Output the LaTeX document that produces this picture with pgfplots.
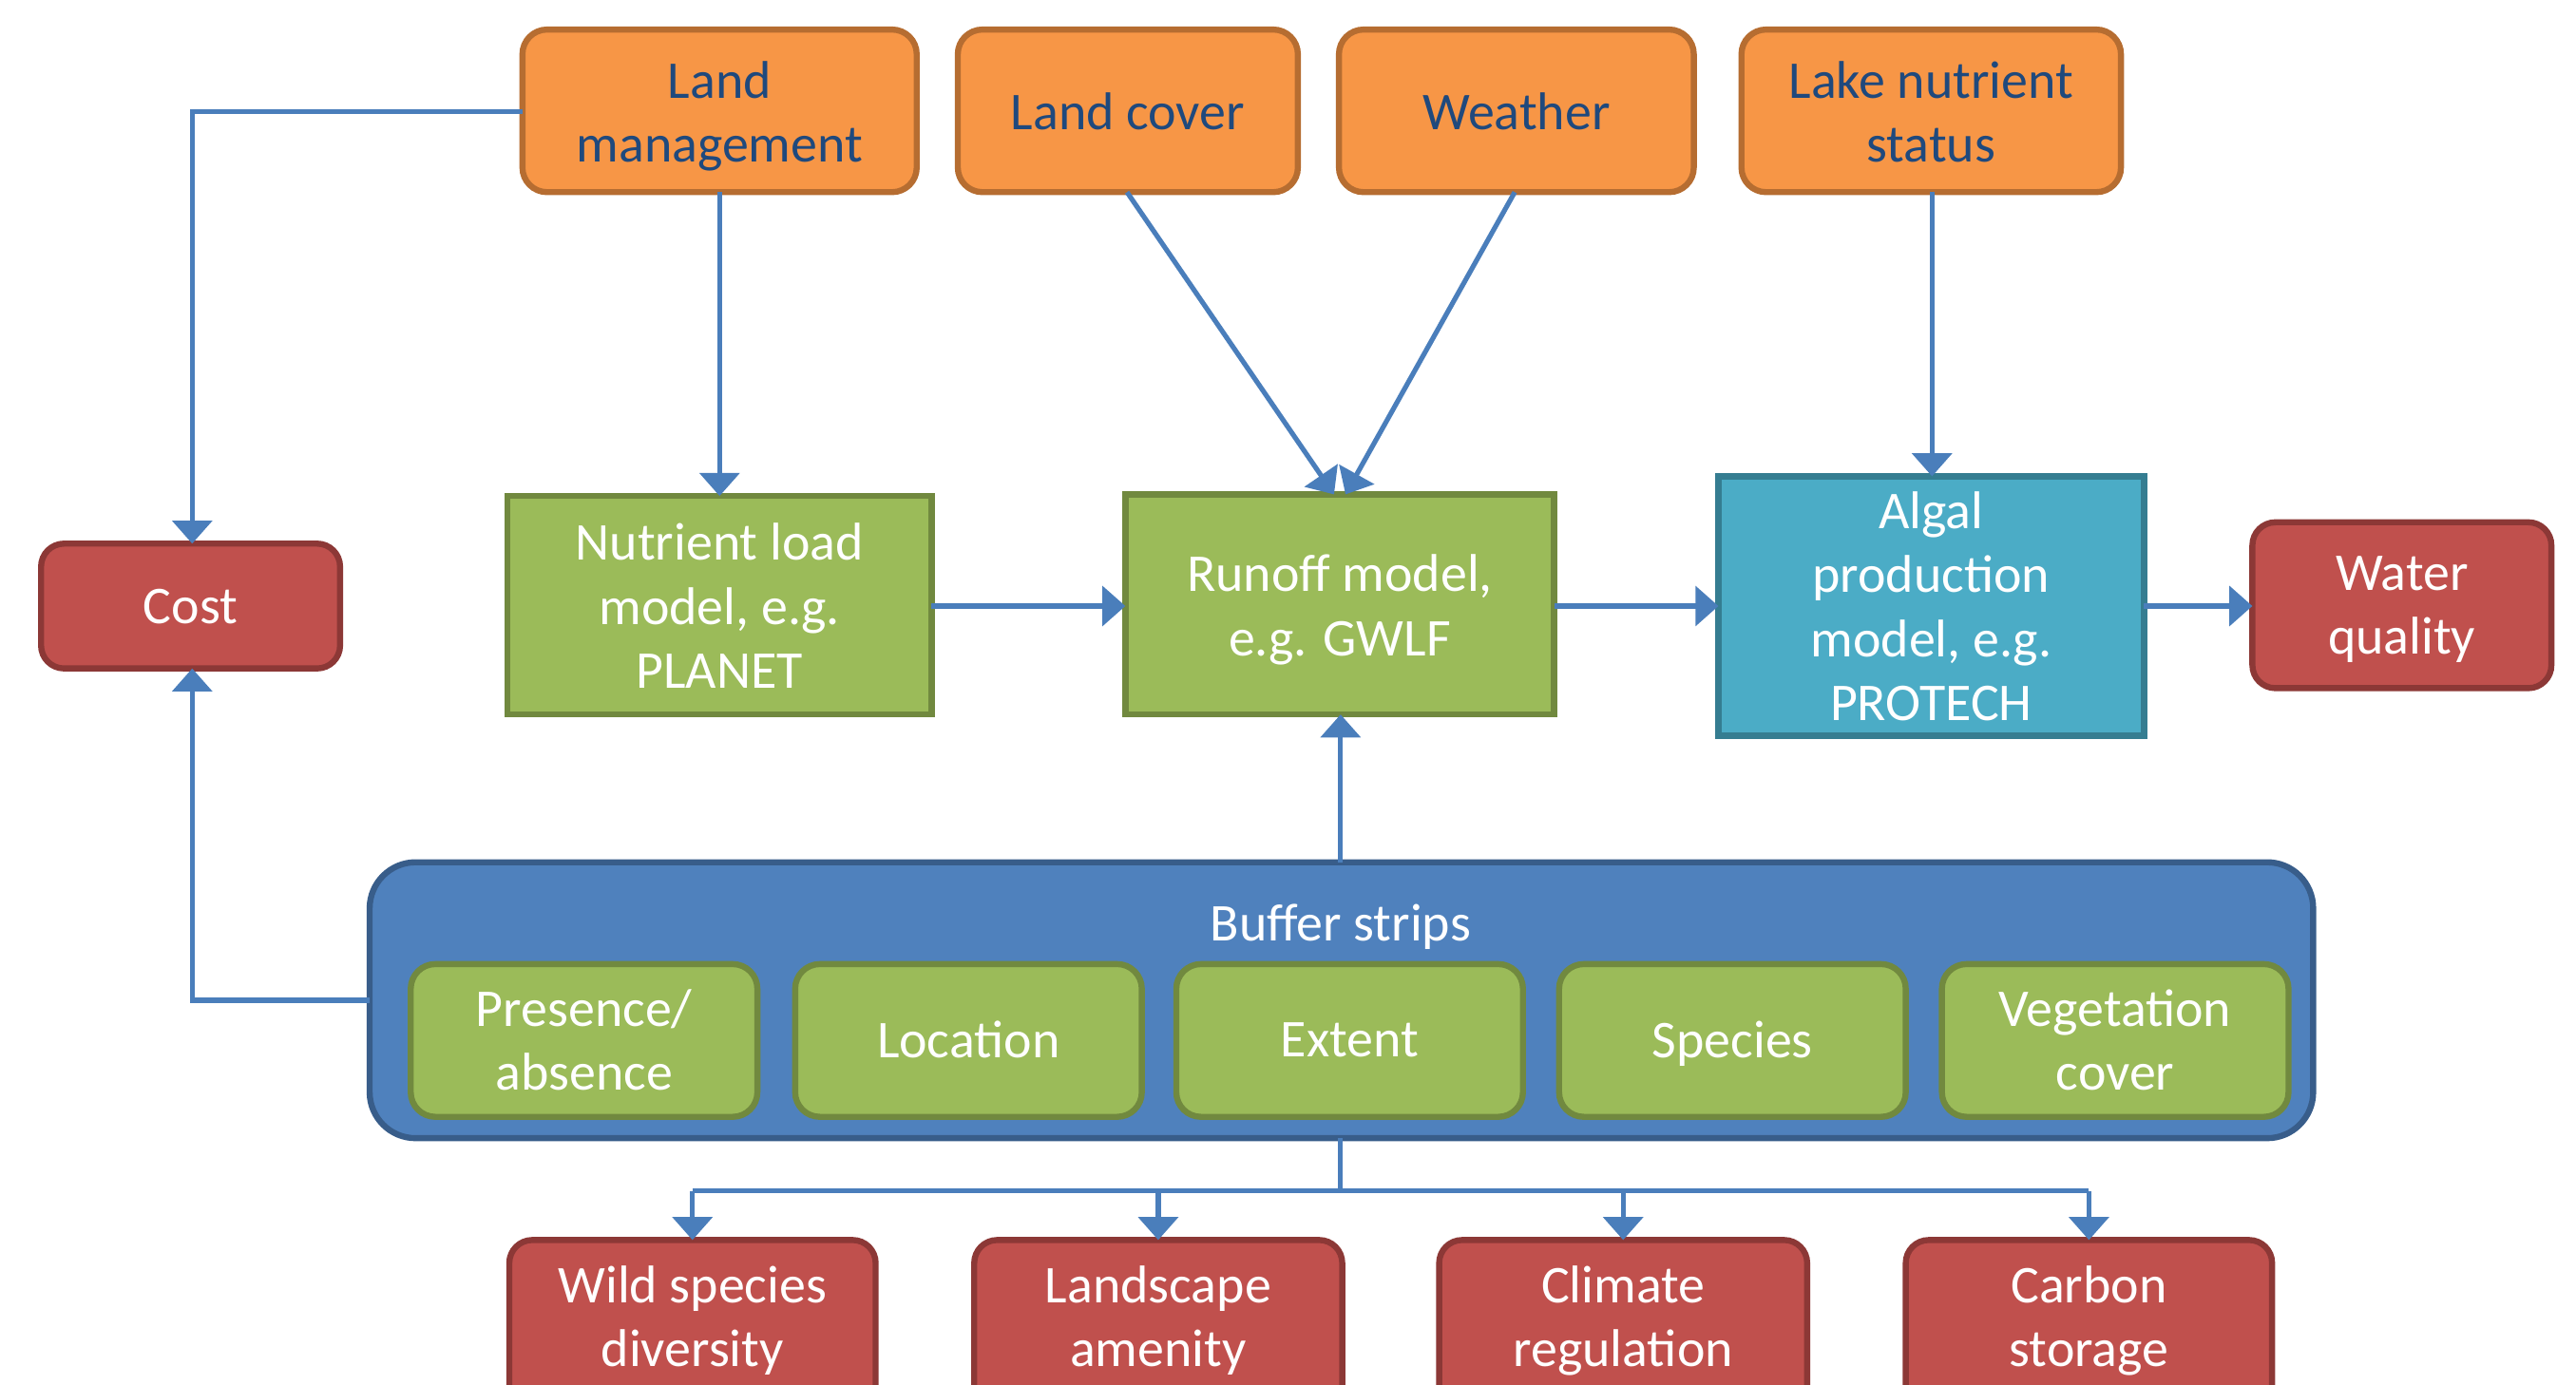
\documentclass[border=0pt]{standalone}
\usepackage{pgfplots}
\pgfplotsset{compat=1.18}
\usetikzlibrary{arrows.meta}
\usepackage{fontspec}
\setmainfont{Carlito}

\definecolor{orfill}{HTML}{F79646}
\definecolor{ordraw}{HTML}{B66D31}
\definecolor{ortext}{HTML}{1F497D}
\definecolor{rdfill}{HTML}{C0504D}
\definecolor{rddraw}{HTML}{8C3836}
\definecolor{grfill}{HTML}{9BBB59}
\definecolor{grdraw}{HTML}{71893F}
\definecolor{tlfill}{HTML}{4BACC6}
\definecolor{tldraw}{HTML}{357D91}
\definecolor{blfill}{HTML}{4F81BD}
\definecolor{bldraw}{HTML}{385D8A}
\definecolor{link}{HTML}{4A7EBB}

\tikzset{
  box-or/.style={fill=orfill, draw=ordraw, line width=1.05pt, rounded corners=0.15cm},
  box-rd/.style={fill=rdfill, draw=rddraw, line width=1.05pt, rounded corners=0.14cm},
  box-gr/.style={fill=grfill, draw=grdraw, line width=1.05pt},
  box-gri/.style={fill=grfill, draw=grdraw, line width=1.05pt, rounded corners=0.15cm},
  box-tl/.style={fill=tlfill, draw=tldraw, line width=1.05pt},
  box-bl/.style={fill=blfill, draw=bldraw, line width=1.05pt, rounded corners=0.28cm},
  lbl/.style={font=\fontsize{9.2}{11.1}\selectfont, align=center, text=white,
    inner sep=0pt, text depth=0pt},
  lblo/.style={lbl, text=ortext},
  con/.style={draw=link, line width=0.85pt},
  arr/.style={con, -{Triangle[width=0.24cm,length=0.14cm]}},
}

\begin{document}
\begin{tikzpicture}
\begin{axis}[
  scale only axis, width=15.68cm, height=8.43cm,
  xmin=0, xmax=1568, ymin=0, ymax=843, y dir=reverse,
  hide axis, clip=false]

\coordinate (SW) at (axis cs:0,843);
\coordinate (NE) at (axis cs:1568,0);

% inputs
\draw[box-or] (axis cs:318,18) rectangle (axis cs:558,117);
\draw[box-or] (axis cs:583,18) rectangle (axis cs:790,117);
\draw[box-or] (axis cs:815,18) rectangle (axis cs:1031,117);
\draw[box-or] (axis cs:1060,18) rectangle (axis cs:1291,117);

% models
\draw[box-gr] (axis cs:309,302) rectangle (axis cs:567,435);
\draw[box-gr] (axis cs:685,301) rectangle (axis cs:946,435);
\draw[box-tl] (axis cs:1046,290) rectangle (axis cs:1305,448);

% outputs
\draw[box-rd] (axis cs:25,331) rectangle (axis cs:207,407);
\draw[box-rd] (axis cs:1371,318) rectangle (axis cs:1553,419);
\draw[box-rd] (axis cs:310,755) rectangle (axis cs:533,875);
\draw[box-rd] (axis cs:593,755) rectangle (axis cs:817,875);
\draw[box-rd] (axis cs:876,755) rectangle (axis cs:1100,875);
\draw[box-rd] (axis cs:1160,755) rectangle (axis cs:1383,875);

% buffer strips
\draw[box-bl] (axis cs:225,525) rectangle (axis cs:1408,693);
\draw[box-gri] (axis cs:250,587) rectangle (axis cs:461,680);
\draw[box-gri] (axis cs:484,587) rectangle (axis cs:695,680);
\draw[box-gri] (axis cs:716,587) rectangle (axis cs:927,680);
\draw[box-gri] (axis cs:949,587) rectangle (axis cs:1160,680);
\draw[box-gri] (axis cs:1182,587) rectangle (axis cs:1393,680);

% links
\draw[arr] (axis cs:318,68) -| (axis cs:117,331);
\draw[arr] (axis cs:438,117) -- (axis cs:438,302);
\draw[arr] (axis cs:686,117) -- (axis cs:812,301);
\draw[arr] (axis cs:922,117) -- (axis cs:819,301);
\draw[arr] (axis cs:1176,117) -- (axis cs:1176,290);
\draw[arr] (axis cs:567,369) -- (axis cs:685,369);
\draw[arr] (axis cs:946,369) -- (axis cs:1046,369);
\draw[arr] (axis cs:1305,369) -- (axis cs:1371,369);
\draw[arr] (axis cs:816,525) -- (axis cs:816,435);
\draw[arr] (axis cs:225,609) -| (axis cs:117,407);
\draw[con] (axis cs:816,693) -- (axis cs:816,725);
\draw[con] (axis cs:421.5,725) -- (axis cs:1271.5,725);
\draw[arr] (axis cs:421.5,725) -- (axis cs:421.5,755);
\draw[arr] (axis cs:705,725) -- (axis cs:705,755);
\draw[arr] (axis cs:988,725) -- (axis cs:988,755);
\draw[arr] (axis cs:1271.5,725) -- (axis cs:1271.5,755);

% labels
\node[lblo] at (axis cs:438,68) {Land\\management};
\node[lblo] at (axis cs:686.5,68) {Land cover};
\node[lblo] at (axis cs:923,68) {Weather};
\node[lblo] at (axis cs:1175.5,68) {Lake nutrient\\status};
\node[lbl] at (axis cs:116,369) {Cost};
\node[lbl] at (axis cs:1462,368.5) {Water\\quality};
\node[lbl] at (axis cs:438,369) {Nutrient load\\model, e.g.\\PLANET};
\node[lbl] at (axis cs:815.5,368.5) {Runoff model,\\e.g. GWLF};
\node[lbl] at (axis cs:1175.5,369) {Algal\\production\\model, e.g.\\PROTECH};
\node[lbl] at (axis cs:816,562) {Buffer strips};
\node[lbl] at (axis cs:355.5,633) {Presence/\\absence};
\node[lbl] at (axis cs:589.5,633) {Location};
\node[lbl] at (axis cs:821.5,633) {Extent};
\node[lbl] at (axis cs:1054.5,633) {Species};
\node[lbl] at (axis cs:1287.5,633) {Vegetation\\cover};
\node[lbl] at (axis cs:421.5,801.5) {Wild species\\diversity};
\node[lbl] at (axis cs:705,801.5) {Landscape\\amenity};
\node[lbl] at (axis cs:988,801.5) {Climate\\regulation};
\node[lbl] at (axis cs:1271.5,801.5) {Carbon\\storage};
\end{axis}
\pgfresetboundingbox
\path[use as bounding box] (SW) rectangle (NE);
\end{tikzpicture}
\end{document}
